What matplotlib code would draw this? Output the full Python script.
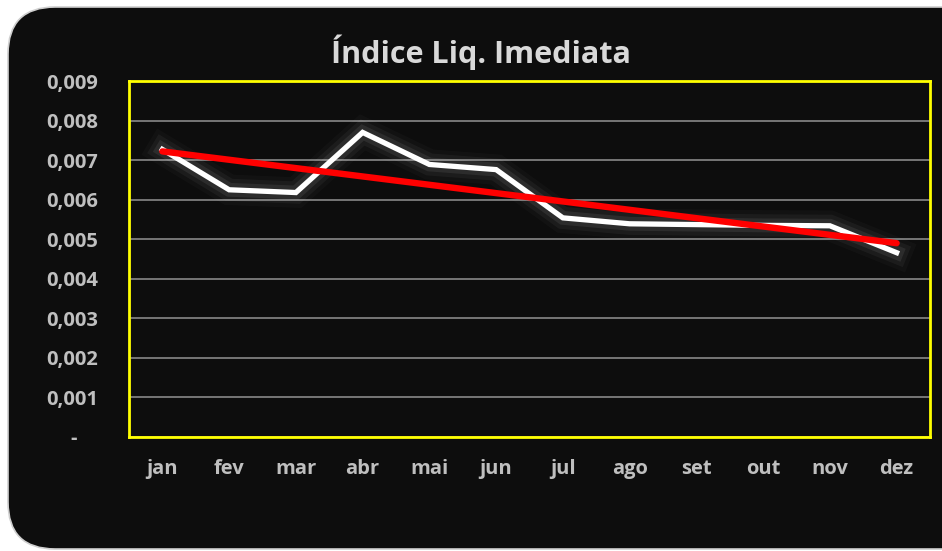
import matplotlib

matplotlib.use("Agg")
import matplotlib.pyplot as plt
import matplotlib.patheffects as pe
from matplotlib.patches import FancyBboxPatch

months = ["jan", "fev", "mar", "abr", "mai", "jun", "jul", "ago", "set", "out", "nov", "dez"]
indice = [0.00727, 0.00625, 0.00618, 0.00770, 0.00689, 0.00676,
          0.00554, 0.00539, 0.00537, 0.00535, 0.00534, 0.00466]
# linear trendline (Excel), read at its two ends
trend_x = [0, 11]
trend_y = [0.00722, 0.00490]
y_ticks = [0.000, 0.001, 0.002, 0.003, 0.004, 0.005, 0.006, 0.007, 0.008, 0.009]
y_labels = ["-    ", "0,001", "0,002", "0,003", "0,004", "0,005", "0,006", "0,007", "0,008", "0,009"]

W, H = 942, 551
bg = "#0d0d0d"
label_color = "#bfbfbf"
font = ["Open Sans", "DejaVu Sans"]

fig = plt.figure(figsize=(W / 100, H / 100), dpi=100, facecolor="white")

# dark rounded chart area, runs off the right/bottom edge
box = FancyBboxPatch(
    (8 / W, 2 / H), 990 / W, 542 / H,
    boxstyle="round,pad=0,rounding_size=0.05",
    transform=fig.transFigure, facecolor=bg, edgecolor="#cfcfcf", linewidth=1.2,
    mutation_aspect=W / H, zorder=-10,
)
fig.patches.append(box)

ax = fig.add_axes((129 / W, 1 - 437 / H, 801 / W, 356 / H))
ax.set_zorder(2)
ax.set_facecolor(bg)

x = list(range(len(months)))
glow = [
    pe.Stroke(linewidth=22, foreground="white", alpha=0.025),
    pe.Stroke(linewidth=16, foreground="white", alpha=0.045),
    pe.Stroke(linewidth=10, foreground="white", alpha=0.07),
    pe.Normal(),
]
ax.plot(x, indice, color="white", linewidth=3.8, solid_joinstyle="miter",
        path_effects=glow, zorder=3)
ax.plot(trend_x, trend_y, color="#ff0000", linewidth=4.6, solid_capstyle="round", zorder=4)

ax.set_xlim(-0.5, 11.5)
ax.set_ylim(0, 0.009)
ax.set_xticks(x)
ax.set_xticklabels(months)
ax.set_yticks(y_ticks)
ax.set_yticklabels(y_labels)
ax.tick_params(axis="both", length=0, colors=label_color, labelsize=14.5)
ax.tick_params(axis="x", pad=16)
ax.tick_params(axis="y", pad=22)
for lbl in ax.get_xticklabels() + ax.get_yticklabels():
    lbl.set_fontfamily(font)
    lbl.set_fontweight("bold")

ax.grid(axis="y", color="#7f7f7f", linewidth=1.3)
ax.set_axisbelow(True)
for s in ax.spines.values():
    s.set_color("#ffff00")
    s.set_linewidth(2)
    s.set_zorder(5)

fig.text(481 / W, 1 - 52 / H, "Índice Liq. Imediata", ha="center", va="center",
         color="#d9d9d9", fontsize=22, fontweight="bold", family=font)

fig.savefig("out.png", dpi=100, facecolor="white")
